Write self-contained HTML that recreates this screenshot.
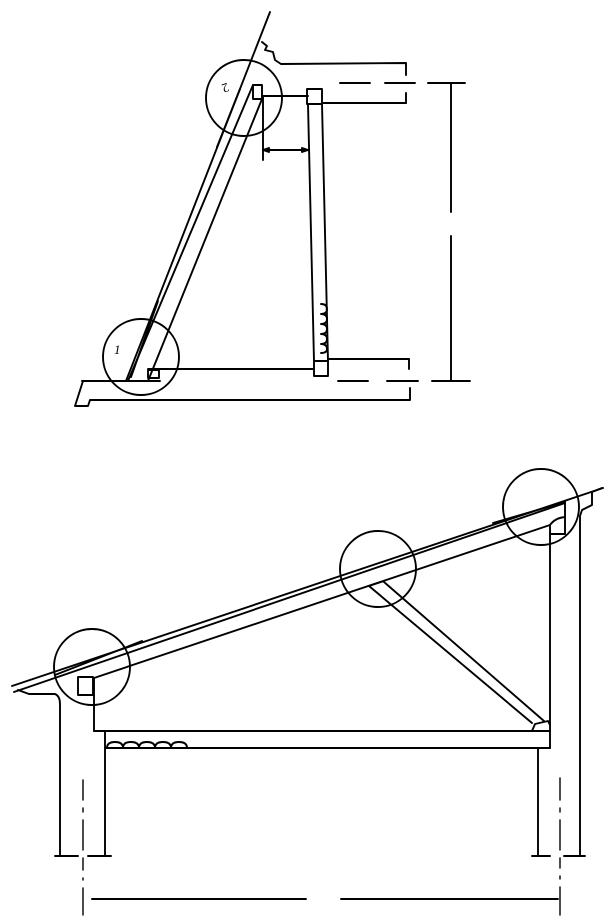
<!DOCTYPE html>
<html><head><meta charset="utf-8"><style>html,body{margin:0;padding:0;background:#fff}svg{display:block}</style></head><body>
<svg width="611" height="922" viewBox="0 0 611 922" xmlns="http://www.w3.org/2000/svg" fill="none" stroke="#000" stroke-width="1.9" stroke-linecap="round" stroke-linejoin="round">
<!-- TOP DRAWING -->
<line x1="270" y1="12" x2="126" y2="381"/>
<line x1="253" y1="85" x2="128" y2="381"/>
<line x1="262" y1="99" x2="148" y2="381"/>
<line x1="217" y1="147" x2="240" y2="89"/>
<line x1="158" y1="301" x2="131" y2="377"/>
<rect x="253" y="85" width="9" height="14"/>
<circle cx="244" cy="98" r="38"/>
<circle cx="141" cy="357" r="38"/>
<text x="219" y="94" font-family="Liberation Serif, serif" font-size="13" stroke="none" fill="#000" transform="rotate(160 224 89)">2</text>
<text x="114" y="354" font-family="Liberation Serif, serif" font-style="italic" font-size="13" stroke="none" fill="#000">1</text>
<line x1="262" y1="96" x2="308" y2="96"/>
<line x1="263" y1="96" x2="263" y2="160"/>
<line x1="263" y1="150" x2="308" y2="150"/>
<path d="M308 150 l-6 -2 v4 z" fill="#000"/>
<path d="M263 150 l6 -2 v4 z" fill="#000"/>
<rect x="307" y="89" width="15" height="15"/>
<path d="M308 104 L314 361 M322 104 L328 361"/>
<rect x="314" y="361" width="14" height="15"/>
<path d="M321 304 q6 0 6 5 q0 5 -6 5 q6 0 6 5 q0 5 -6 5 q6 0 6 5 q0 5 -6 5 q6 0 6 5 q0 5 -6 5 q6 0 6 5 q0 4 -6 4"/>
<path d="M262 42 l5 4 l-2 4 l8 2 l2 8 l6 4 L406 63 V75"/>
<line x1="322" y1="103" x2="406" y2="103"/>
<line x1="406" y1="93" x2="406" y2="103"/>
<path d="M340 83 H370 M385 83 H415 M428 83 H465" />
<line x1="451" y1="84" x2="451" y2="212"/>
<line x1="451" y1="236" x2="451" y2="381"/>
<line x1="328" y1="359" x2="409" y2="359"/>
<line x1="409" y1="359" x2="409" y2="369"/>
<path d="M338 381 H368 M387 381 H418 M432 381 H470"/>
<line x1="148" y1="369" x2="314" y2="369"/>
<rect x="148" y="370" width="11" height="8"/>
<path d="M82 381 H160 M83 381 L75 406 L88 406 L90 400 H410 V388"/>
<!-- BOTTOM DRAWING -->
<line x1="12" y1="686" x2="603" y2="488"/>
<line x1="14" y1="692" x2="565" y2="503"/>
<line x1="94" y1="678" x2="550" y2="525"/>
<line x1="55" y1="675" x2="142" y2="641"/>
<line x1="493" y1="523" x2="565" y2="502"/>
<rect x="78" y="677" width="15" height="18"/>
<path d="M18 690 L29 694 L55 694 Q60 696 60 704 V856"/>
<line x1="55" y1="856" x2="78" y2="856"/>
<line x1="88" y1="856" x2="111" y2="856"/>
<line x1="94" y1="678" x2="94" y2="731"/>
<line x1="94" y1="731" x2="550" y2="731"/>
<line x1="105" y1="748" x2="550" y2="748"/>
<line x1="105" y1="731" x2="105" y2="856"/>
<path d="M107 748 q0 -6 8 -6 q8 0 8 6 q0 -6 8 -6 q8 0 8 6 q0 -6 8 -6 q8 0 8 6 q0 -6 8 -6 q8 0 8 6 q0 -6 8 -6 q8 0 8 6"/>
<line x1="550" y1="525" x2="550" y2="748"/>
<line x1="538" y1="748" x2="538" y2="856"/>
<line x1="532" y1="856" x2="550" y2="856"/>
<line x1="564" y1="856" x2="585" y2="856"/>
<path d="M602 488 L592 492 V505 L582 510 L580 516 V856"/>
<path d="M550 525 Q555 518 565 517 M565 502 V534 H550"/>
<path d="M369 586 L384 581 M369 586 L532 723 M384 582 L544 721"/>
<path d="M532 731 L535 724 L548 721 L550 725"/>
<circle cx="92" cy="667" r="38"/>
<ellipse cx="378" cy="569" rx="38" ry="38"/>
<circle cx="541" cy="507" r="38"/>
<path d="M83 780 V800 M83 808 V812 M83 820 V850 M83 858 V870 M83 878 V880 M83 888 V915" stroke-width="1.4"/>
<path d="M560 778 V800 M560 808 V812 M560 820 V850 M560 858 V868 M560 876 V879 M560 887 V915" stroke-width="1.4"/>
<path d="M92 899 H306 M341 899 H558"/>
</svg>
</body></html>
